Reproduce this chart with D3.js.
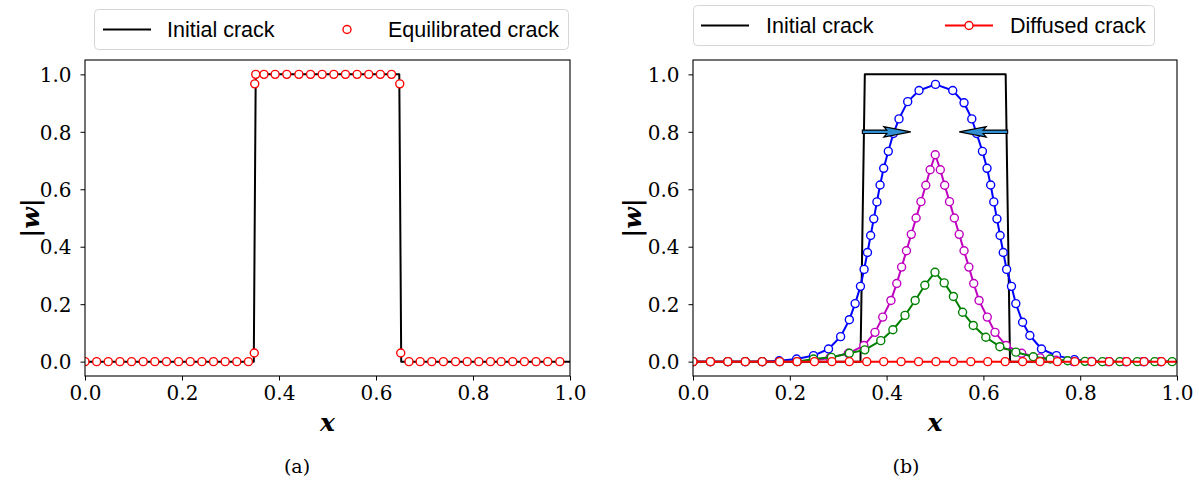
<!DOCTYPE html>
<html>
<head>
<meta charset="utf-8">
<script src="https://cdn.jsdelivr.net/npm/d3@7"></script>
<style>
  html, body { margin: 0; padding: 0; background: #fff; }
  svg { display: block; }
  .tick text { font-family: "DejaVu Serif", serif; font-size: 20px; fill: #000; }
  .tick line { stroke: #000; stroke-width: 1; }
  .legend text { font-family: "Liberation Sans", "DejaVu Sans", sans-serif; font-size: 21.5px; fill: #000; }
  .mathlab { font-family: "DejaVu Serif", serif; font-weight: bold; font-style: italic; font-size: 25px; }
  .caption { font-family: "DejaVu Serif", serif; font-size: 19px; }
</style>
</head>
<body>
<svg id="fig" width="1199" height="485"></svg>
<script>
// ---- tick labels -------------------------------------------------------
const xTicks = [0.0, 0.2, 0.4, 0.6, 0.8, 1.0];
const yTicks = [0.0, 0.2, 0.4, 0.6, 0.8, 1.0];

// ---- (a) initial crack (step profile) and equilibrated crack ----------
const initAX = [0, 0.348, 0.352, 0.648, 0.652, 1];
const initAW = [0, 0, 1, 1, 0, 0];

const eqX = [0.000, 0.024, 0.048, 0.072, 0.096, 0.120, 0.144, 0.168, 0.193, 0.217,
             0.241, 0.265, 0.289, 0.313, 0.337,
             0.349, 0.350, 0.352,
             0.369, 0.392, 0.416, 0.441, 0.465, 0.489, 0.513, 0.537, 0.561, 0.585, 0.609, 0.632,
             0.649, 0.651,
             0.668, 0.691, 0.715, 0.739, 0.764, 0.788, 0.812, 0.836, 0.858, 0.882, 0.906, 0.930, 0.954, 0.979];
const eqW = [0, 0, 0, 0, 0, 0, 0, 0, 0, 0,
             0, 0, 0, 0, 0,
             0.03, 0.967, 1.0,
             1, 1, 1, 1, 1, 1, 1, 1, 1, 1, 1, 1,
             0.967, 0.03,
             0, 0, 0, 0, 0, 0, 0, 0, 0, 0, 0, 0, 0, 0];

// ---- (b) initial crack and diffused profiles ---------------------------
const initBX = [0, 0.346, 0.355, 0.646, 0.655, 1];
const initBW = [0, 0, 1, 1, 0, 0];

const blueX = [0.000, 0.036, 0.072, 0.108, 0.143, 0.178, 0.214, 0.249, 0.280, 0.305,
               0.323, 0.335, 0.346, 0.3535, 0.3605, 0.367, 0.3735, 0.380, 0.3865, 0.394,
               0.4035, 0.414, 0.4256, 0.4436, 0.467, 0.501, 0.5366, 0.560, 0.576, 0.586,
               0.598, 0.6075, 0.615, 0.6215, 0.628, 0.6345, 0.641, 0.648, 0.658, 0.667,
               0.681, 0.696, 0.720, 0.751, 0.788, 0.824, 0.860, 0.896, 0.932, 0.967];
const blueW = [0, 0, 0, 0, 0, 0.003, 0.009, 0.021, 0.044, 0.087,
               0.146, 0.202, 0.262, 0.321, 0.380, 0.439, 0.497, 0.556, 0.615, 0.673,
               0.732, 0.794, 0.845, 0.905, 0.944, 0.965, 0.944, 0.901, 0.845, 0.794,
               0.732, 0.673, 0.615, 0.556, 0.497, 0.439, 0.380, 0.321, 0.262, 0.202,
               0.137, 0.091, 0.044, 0.021, 0.007, 0.001, 0, 0, 0, 0];

const magX = [0.000, 0.036, 0.072, 0.108, 0.143, 0.179, 0.215, 0.250, 0.283, 0.321,
              0.353, 0.376, 0.392, 0.409, 0.421, 0.431, 0.441, 0.451, 0.461, 0.471,
              0.481, 0.490, 0.5005, 0.511, 0.520, 0.530, 0.540, 0.550, 0.560, 0.570,
              0.580, 0.591, 0.608, 0.624, 0.647, 0.679, 0.717, 0.750, 0.786, 0.822,
              0.857, 0.893, 0.929, 0.965];
const magW = [0, 0, 0, 0, 0, 0, 0, 0.005, 0.013, 0.029,
              0.056, 0.102, 0.155, 0.213, 0.272, 0.329, 0.386, 0.443, 0.500, 0.557,
              0.614, 0.668, 0.720, 0.668, 0.614, 0.557, 0.500, 0.443, 0.386, 0.329,
              0.272, 0.213, 0.155, 0.102, 0.056, 0.029, 0.013, 0.005, 0, 0,
              0, 0, 0, 0];

const greenX = [0.000, 0.036, 0.072, 0.108, 0.143, 0.179, 0.215, 0.249, 0.286, 0.323,
                0.355, 0.388, 0.413, 0.438, 0.459, 0.479, 0.500, 0.519, 0.538, 0.557,
                0.579, 0.605, 0.634, 0.667, 0.703, 0.738, 0.774, 0.810, 0.846, 0.882,
                0.918, 0.954, 0.990];
const greenW = [0, 0, 0, 0, 0, 0, 0, 0.009, 0.015, 0.029,
                0.041, 0.073, 0.111, 0.161, 0.213, 0.266, 0.311, 0.274, 0.227, 0.172,
                0.126, 0.085, 0.052, 0.033, 0.017, 0.009, 0.003, 0.001, 0, 0,
                0, 0, 0];

const redX = [0.000, 0.036, 0.072, 0.108, 0.143, 0.179, 0.215, 0.251, 0.287, 0.323,
              0.359, 0.394, 0.430, 0.466, 0.502, 0.538, 0.574, 0.609, 0.645, 0.681,
              0.717, 0.753, 0.789, 0.824, 0.860, 0.896, 0.932, 0.968];
const redW = redX.map(() => 0);

// arrows marking the inward motion of the crack faces (data units)
const arrowTail = [0.35, 0.65];
const arrowTip  = [0.45, 0.55];
const arrowW    = [0.80, 0.80];

const legendA = ["Initial crack", "Equilibrated crack"];
const legendB = ["Initial crack", "Diffused crack"];

// ---- layout ------------------------------------------------------------
const svg = d3.select("#fig");
const plotTop = 60, plotBottom = 376;
const yDomain = [-0.05, 1.05];
const markerR = 4;

function zip(xs, ws) { return xs.map((x, i) => ({ x, w: ws[i] })); }

function makePanel(id, left, right, ylabX, capX, caption) {
  const x = d3.scaleLinear([0, 1], [left, right]);
  const y = d3.scaleLinear(yDomain, [plotBottom, plotTop]);
  const g = svg.append("g").attr("id", id);

  g.append("clipPath").attr("id", id + "-clip")
    .append("rect").attr("x", left).attr("y", plotTop)
    .attr("width", right - left).attr("height", plotBottom - plotTop);

  const xAxis = g.append("g").attr("transform", `translate(0,${plotBottom})`)
    .call(d3.axisBottom(x).tickValues(xTicks).tickFormat(d3.format(".1f"))
      .tickSize(4.5).tickSizeOuter(0).tickPadding(5));
  xAxis.select(".domain").remove();

  const yAxis = g.append("g").attr("transform", `translate(${left},0)`)
    .call(d3.axisLeft(y).tickValues(yTicks).tickFormat(d3.format(".1f"))
      .tickSize(4.5).tickSizeOuter(0).tickPadding(9));
  yAxis.select(".domain").remove();
  yAxis.selectAll(".tick text").attr("dy", "0.36em");

  const plot = g.append("g").attr("clip-path", `url(#${id}-clip)`);

  g.append("text").attr("class", "mathlab")
    .attr("x", (left + right) / 2).attr("y", 431).attr("text-anchor", "middle")
    .text("x");
  g.append("text").attr("class", "mathlab")
    .attr("transform", `translate(${ylabX},${(plotTop + plotBottom) / 2}) rotate(-90)`)
    .attr("text-anchor", "middle").attr("dy", "0.35em")
    .text("|w|");
  g.append("text").attr("class", "caption")
    .attr("x", capX).attr("y", 473).attr("text-anchor", "middle")
    .text(caption);

  return { x, y, g, plot, left, right };
}

function drawFrame(p) {
  p.g.append("rect").attr("x", p.left).attr("y", plotTop)
    .attr("width", p.right - p.left).attr("height", plotBottom - plotTop)
    .attr("fill", "none").attr("stroke", "#000").attr("stroke-width", 1.1);
}

function drawLine(p, data, color, width, extendToEnd) {
  const pts = data.slice();
  if (extendToEnd && pts[pts.length - 1].x < 1) pts.push({ x: 1, w: pts[pts.length - 1].w });
  const line = d3.line().x(d => p.x(d.x)).y(d => p.y(d.w));
  p.plot.append("path").datum(pts)
    .attr("d", line).attr("fill", "none")
    .attr("stroke", color).attr("stroke-width", width)
    .attr("stroke-linejoin", "round");
}

function drawMarkers(p, data, color) {
  p.plot.append("g").selectAll("circle").data(data).join("circle")
    .attr("cx", d => p.x(d.x)).attr("cy", d => p.y(d.w))
    .attr("r", markerR).attr("fill", "#fff")
    .attr("stroke", color).attr("stroke-width", 1.4);
}

function drawArrow(p, x0, x1, w) {
  const X0 = p.x(x0), X1 = p.x(x1), Y = p.y(w);
  const dir = Math.sign(X1 - X0);
  const headLen = 24, half = 1.7, headHalf = 5.2;
  const XH = X1 - dir * headLen;
  const pts = [[X0, Y - half], [XH, Y - half], [XH - dir * 3, Y - headHalf], [X1, Y],
               [XH - dir * 3, Y + headHalf], [XH, Y + half], [X0, Y + half]];
  p.g.append("path").attr("d", "M" + pts.map(q => q.join(",")).join("L") + "Z")
    .attr("fill", "#2f8fd0").attr("stroke", "#000").attr("stroke-width", 1.2)
    .attr("stroke-linejoin", "miter");
}

function legend(x0, y0, w, h, items) {
  const lg = svg.append("g").attr("class", "legend");
  lg.append("rect").attr("x", x0).attr("y", y0).attr("width", w).attr("height", h)
    .attr("rx", 4).attr("fill", "#fff").attr("fill-opacity", 0.8)
    .attr("stroke", "#d6d6d6").attr("stroke-width", 1);
  const cy = y0 + h / 2;
  items.forEach(it => {
    if (it.line) {
      lg.append("line").attr("x1", it.sx).attr("x2", it.sx + 48)
        .attr("y1", cy).attr("y2", cy).attr("stroke", it.color).attr("stroke-width", 2);
    }
    if (it.marker) {
      lg.append("circle").attr("cx", it.sx + 24).attr("cy", cy).attr("r", markerR)
        .attr("fill", "#fff").attr("stroke", it.color).attr("stroke-width", 1.4);
    }
    lg.append("text").attr("x", it.tx).attr("y", cy).attr("dy", "0.36em").text(it.label);
  });
}

// ---- panel (a) ---------------------------------------------------------
const pa = makePanel("pa", 85, 570, 30, 297, "(a)");
drawLine(pa, zip(initAX, initAW), "#000", 2, false);
drawMarkers(pa, zip(eqX, eqW), "#ff0000");
drawFrame(pa);

// ---- panel (b) ---------------------------------------------------------
const pb = makePanel("pb", 693, 1177, 632, 906, "(b)");
drawLine(pb, zip(initBX, initBW), "#000", 2, false);
arrowTail.forEach((t, i) => drawArrow(pb, t, arrowTip[i], arrowW[i]));
[[blueX, blueW, "#0000ff"], [magX, magW, "#bf00bf"], [greenX, greenW, "#008000"], [redX, redW, "#ff0000"]]
  .forEach(([xs, ws, c]) => {
    const d = zip(xs, ws);
    drawLine(pb, d, c, 2, true);
    drawMarkers(pb, d, c);
  });
drawFrame(pb);

// ---- legends -----------------------------------------------------------
legend(94.5, 9.5, 474, 40, [
  { line: true, color: "#000", sx: 103, tx: 167, label: legendA[0] },
  { marker: true, color: "#ff0000", sx: 323, tx: 388, label: legendA[1] }
]);
legend(693.5, 5.5, 461, 40, [
  { line: true, color: "#000", sx: 701, tx: 766, label: legendB[0] },
  { line: true, marker: true, color: "#ff0000", sx: 945, tx: 1010, label: legendB[1] }
]);
</script>
</body>
</html>
